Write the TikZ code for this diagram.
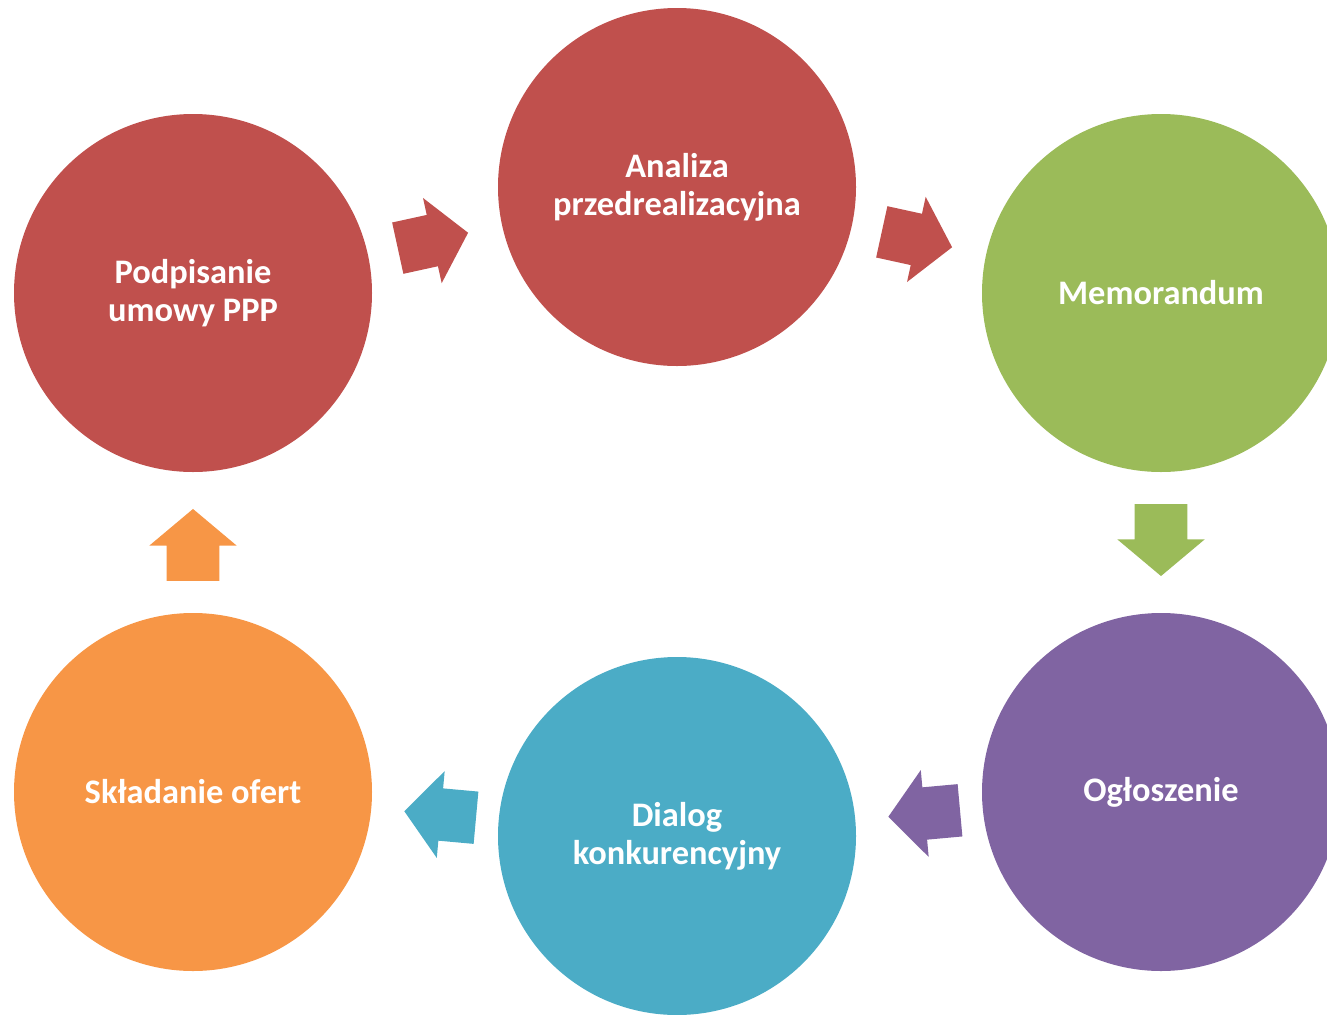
\documentclass[tikz,border=0pt]{standalone}
\usepackage{fontspec}
\setmainfont{Carlito}
\usetikzlibrary{shapes.arrows}
\definecolor{ppred}{HTML}{C0504D}
\definecolor{ppgreen}{HTML}{9BBB59}
\definecolor{pppurple}{HTML}{8064A2}
\definecolor{ppblue}{HTML}{4BACC6}
\definecolor{pporange}{HTML}{F79646}
\begin{document}
\begin{tikzpicture}[x=0.75pt,y=-0.75pt,
	stage/.style={circle,minimum size=268.5pt,inner sep=0pt,text=white,align=center,font=\fontsize{25.8}{28.5}\selectfont\bfseries},
	blockarr/.style={pos=0.404,single arrow,minimum height=54pt,minimum width=65pt,single arrow head extend=13pt,single arrow tip angle=100,inner xsep=0pt,inner ysep=19.5pt,sloped,allow upside down}]
	\clip (0,0) rectangle (1327,1014);
	\node[stage,fill=ppred] (podpis) at (193,293) {Podpisanie\\umowy PPP};
	\node[stage,fill=ppred] (analiza) at (677,187) {Analiza\\przedrealizacyjna};
	\node[stage,fill=ppgreen] (memo) at (1161,293) {Memorandum};
	\node[stage,fill=pppurple] (oglosz) at (1161,792) {Ogłoszenie};
	\node[stage,fill=ppblue] (dialog) at (677,836) {Dialog\\konkurencyjny};
	\node[stage,fill=pporange] (oferty) at (193,792) {Składanie ofert};
	% strzalki miedzy etapami
	\path (podpis) -- (analiza) node[blockarr,fill=ppred] (s1) {};
	\path (analiza) -- (memo) node[blockarr,fill=ppred] (s2) {};
	\path (memo) -- (oglosz) node[blockarr,fill=ppgreen] (s3) {};
	\path (oglosz) -- (dialog) node[blockarr,pos=0.373,fill=pppurple] (s4) {};
	\path (dialog) -- (oferty) node[blockarr,pos=0.373,fill=ppblue] (s5) {};
	\path (oferty) -- (podpis) node[blockarr,fill=pporange] (s6) {};
\end{tikzpicture}
\end{document}
